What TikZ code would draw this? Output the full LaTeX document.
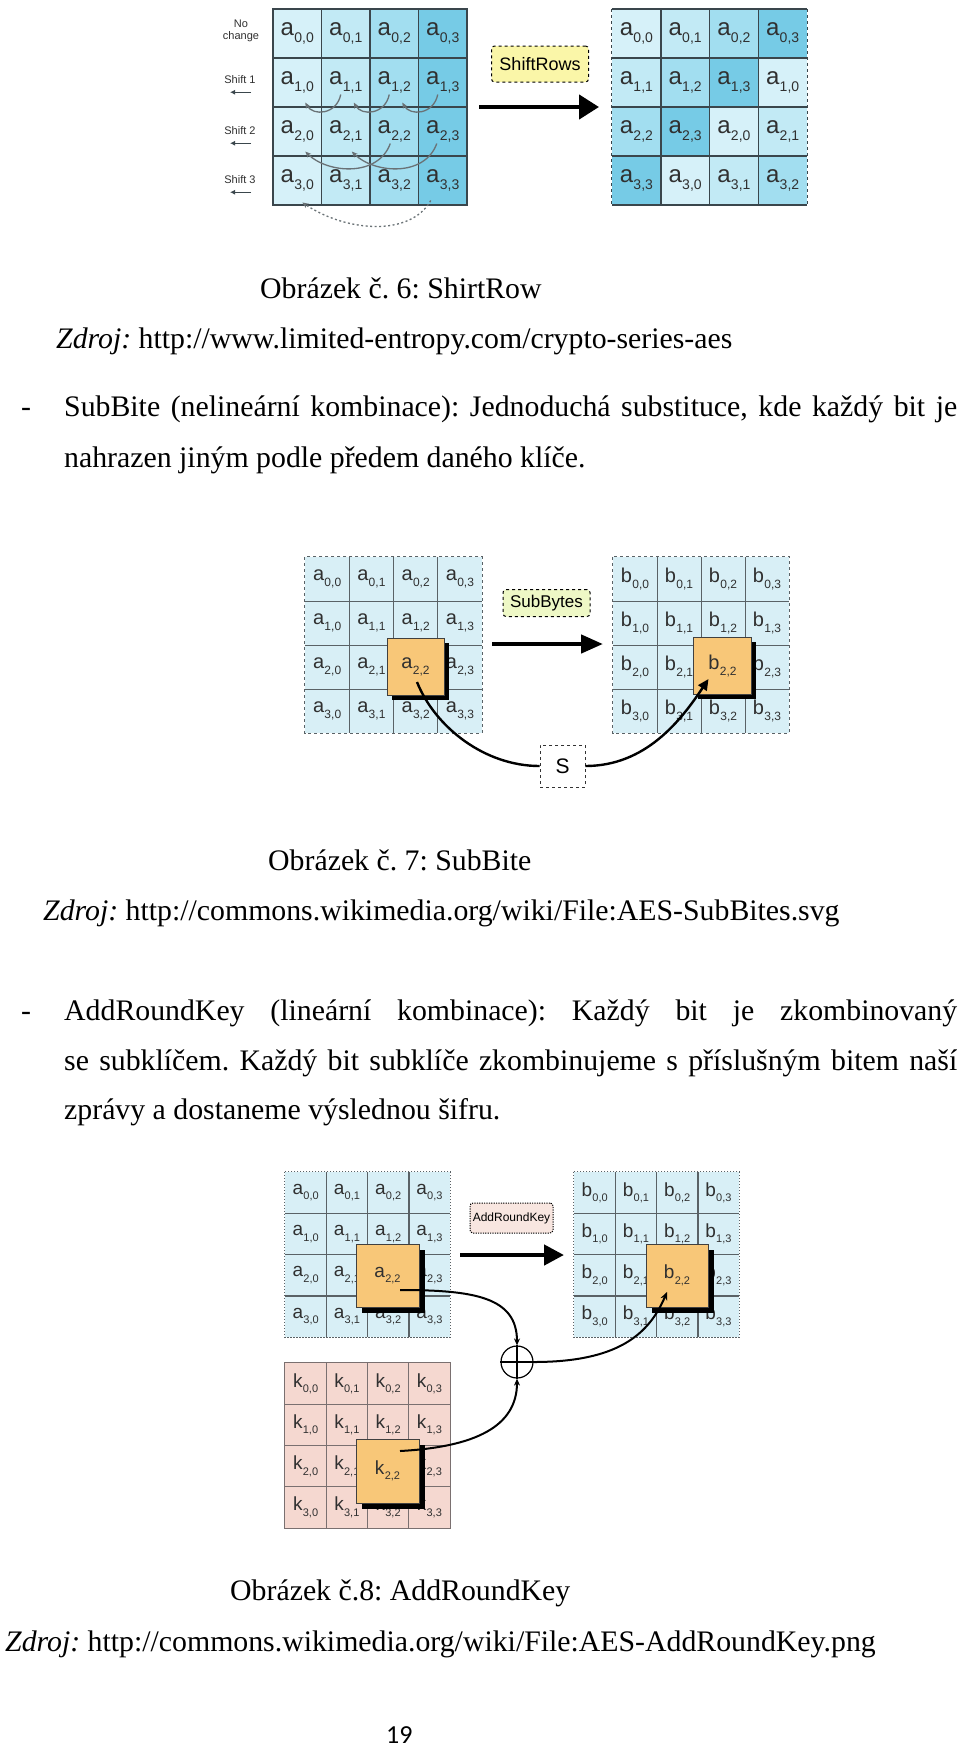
\documentclass[tikz,border=0pt]{standalone}
\usepackage{fontspec}
\setmainfont{Liberation Serif}
\setsansfont{Liberation Sans}
\newfontfamily\pgnumfont{Carlito}
\usetikzlibrary{arrows.meta,calc}
\frenchspacing
\definecolor{colS0}{HTML}{D6F1F9}
\definecolor{colS1}{HTML}{C2EAF5}
\definecolor{colS2}{HTML}{A2DEF0}
\definecolor{colS3}{HTML}{76CBE6}
\definecolor{gridS}{HTML}{3A464C}
\definecolor{cellB}{HTML}{D8EFF6}
\definecolor{cellK}{HTML}{F5D8D0}
\definecolor{gridG}{HTML}{5A6266}
\definecolor{gridK}{HTML}{7A7070}
\definecolor{orangeC}{HTML}{F8C778}
\definecolor{txtC}{HTML}{303030}
\definecolor{yelC}{HTML}{FAF6A8}
\definecolor{lgC}{HTML}{EEF8C6}
\definecolor{pinkC}{HTML}{F8E6E0}
\definecolor{arrG}{HTML}{6A7276}
\newcommand\aent[3]{#1\kern0.3pt\raisebox{-0.55ex}{\fontsize{\subsz}{\subsz}\selectfont #2,#3}}
\def\subsz{14}
\begin{document}
\begin{tikzpicture}[x=1pt,y=-1pt,
  txt/.style={anchor=base west, inner sep=0, font=\fontsize{29.8}{34}\selectfont\frenchspacing},
  cellS/.style={rectangle, inner sep=0, minimum width=48.5pt, minimum height=49pt, text=txtC,
    font=\sffamily\fontsize{24}{24}\selectfont\def\subsz{14}},
  cellM/.style={rectangle, inner sep=0, minimum width=44.2pt, minimum height=44pt, text=txtC,
    font=\sffamily\fontsize{20}{20}\selectfont\def\subsz{12}},
  cellN/.style={rectangle, inner sep=0, minimum width=41.25pt, minimum height=41.25pt, text=txtC,
    font=\sffamily\fontsize{19}{19}\selectfont\def\subsz{11}},
  gline/.style={draw=gridS, line width=1.5pt},
  mline/.style={draw=gridG, line width=1.1pt},
  kline/.style={draw=gridK, line width=1pt},
  orbox/.style={rectangle, inner sep=0, fill=orangeC, draw=black!75, line width=0.8pt, text=txtC},
  shadowbox/.style={rectangle, inner sep=0, fill=black},
  opbox/.style={rectangle, rounded corners=3pt, inner sep=0, text=black, font=\sffamily},
  bigarrow/.style={line width=4.5pt, black},
  curvearr/.style={line width=2.4pt, black},
  rowlab/.style={font=\sffamily\fontsize{11}{12}\selectfont, text=txtC, inner sep=0, align=center},
  shiftarr/.style={gridS, line width=1.2pt, -{Latex[length=5pt,width=5pt]}},
  grayarr/.style={arrG, line width=1.3pt, -{Stealth[length=6pt,width=5pt]}}
]
\useasboundingbox (0,0) rectangle (960,1748);
\fill[white] (0,0) rectangle (960,1748);

% ================= Figure 6: ShiftRows =================
\foreach \r in {0,...,3}{\foreach \c in {0,...,3}{
  \node[cellS, fill=colS\c] (L-\r-\c) at ({273+48.5*(\c+0.5)},{9+49*(\r+0.5)}) {\aent{a}{\r}{\c}};
  \pgfmathtruncatemacro\src{mod(\c+\r,4)}
  \node[cellS, fill=colS\src] (R-\r-\c) at ({612+48.75*(\c+0.5)},{9+49*(\r+0.5)}) {\aent{a}{\r}{\src}};
}}
\foreach \c in {0,1,2}{
  \draw[gline] (L-0-\c.north east) -- (L-3-\c.south east);
  \draw[gline] (R-0-\c.north east) -- (R-3-\c.south east);
}
\foreach \r in {0,1,2}{
  \draw[gline] (L-\r-0.south west) -- (L-\r-3.south east);
  \draw[gline] (R-\r-0.south west) -- (R-\r-3.south east);
}
\draw[gline] (L-0-0.north west) rectangle (L-3-3.south east);
\draw[gline] (R-0-0.north west) -- (R-0-3.north east);
\draw[gline] (R-3-0.south west) -- (R-3-3.south east);
\draw[draw=gridS, line width=1pt, dashed] (R-0-0.north west) -- (R-3-0.south west);
\draw[draw=gridS, line width=1pt, dashed] (R-0-3.north east) -- (R-3-3.south east);

% row labels
\node[rowlab] (lab0) at (241,31) {No\\change};
\node[rowlab] (lab1) at (240,80) {Shift 1};
\node[rowlab] (lab2) at (240,131) {Shift 2};
\node[rowlab] (lab3) at (240,180) {Shift 3};
\foreach \k in {1,2,3}{
  \draw[shiftarr] ($(lab\k.south)+(11,8)$) -- ++(-21,0);
}

% shift arrows inside the left grid
\draw[grayarr] ($(L-1-1.center)+(-5,12)$) .. controls +(-4,20) and +(8,14) .. ($(L-1-0.center)+(8,20)$);
\draw[grayarr] ($(L-1-2.center)+(-5,12)$) .. controls +(-4,20) and +(8,14) .. ($(L-1-1.center)+(8,20)$);
\draw[grayarr] ($(L-1-3.center)+(-5,12)$) .. controls +(-4,20) and +(8,14) .. ($(L-1-2.center)+(8,20)$);
\draw[grayarr] ($(L-2-2.center)+(-4,12)$) .. controls +(-12,34) and +(22,22) .. ($(L-2-0.center)+(8,20)$);
\draw[grayarr] ($(L-2-3.center)+(-6,12)$) .. controls +(-12,34) and +(22,22) .. ($(L-2-1.center)+(6,20)$);
\draw[grayarr, dash pattern=on 2pt off 2.5pt] ($(L-3-3.center)+(-12,20)$) .. controls +(-20,36) and +(45,30) .. ($(L-3-0.center)+(5,22)$);

% ShiftRows operation
\node[opbox, fill=yelC, draw=black, dashed, line width=1pt, minimum width=97pt, minimum height=36pt,
      font=\sffamily\fontsize{18}{18}\selectfont] (shiftop) at (540,64) {ShiftRows};
\coordinate (sarrA) at (479,107);
\coordinate (sarrB) at (599,107);
\draw[bigarrow, -{Triangle[length=20pt,width=24pt]}] (sarrA) -- (sarrB);

% ================= Figure 7: SubBytes =================
\foreach \r in {0,...,3}{\foreach \c in {0,...,3}{
  \node[cellM, fill=cellB] (SA-\r-\c) at ({305+44.25*(\c+0.5)},{557+44*(\r+0.5)}) {\aent{a}{\r}{\c}};
  \node[cellM, fill=cellB] (SB-\r-\c) at ({613+44*(\c+0.5)},{557+44*(\r+0.5)}) {\aent{b}{\r}{\c}};
}}
\foreach \c in {0,1,2}{
  \draw[mline] (SA-0-\c.north east) -- (SA-3-\c.south east);
  \draw[mline] (SB-0-\c.north east) -- (SB-3-\c.south east);
}
\foreach \r in {0,1,2}{
  \draw[mline] (SA-\r-0.south west) -- (SA-\r-3.south east);
  \draw[mline] (SB-\r-0.south west) -- (SB-\r-3.south east);
}
\draw[draw=gridG, line width=1.1pt, dashed] (SA-0-0.north west) rectangle (SA-3-3.south east);
\draw[draw=gridG, line width=1.1pt, dashed] (SB-0-0.north west) rectangle (SB-3-3.south east);

\node[shadowbox, minimum width=57pt, minimum height=57pt] (SAsh) at (420,671) {};
\node[orbox, minimum width=57pt, minimum height=57pt, font=\sffamily\fontsize{20}{20}\selectfont\def\subsz{12}] (SAo) at (415.5,666.5) {\aent{a}{2}{2}};
\node[shadowbox, minimum width=58pt, minimum height=57pt] (SBsh) at (727,670) {};
\node[orbox, minimum width=58pt, minimum height=57pt, font=\sffamily\fontsize{20}{20}\selectfont\def\subsz{12}] (SBo) at (722.5,666) {\aent{b}{2}{2}};

\node[opbox, fill=lgC, draw=black, dashed, line width=1pt, minimum width=87pt, minimum height=27pt,
      font=\sffamily\fontsize{17}{17}\selectfont] (subop) at (546.5,603) {SubBytes};
\coordinate (barrA) at (492,644);
\coordinate (barrB) at (603,644);
\draw[bigarrow, -{Triangle[length=22pt,width=18pt]}] (barrA) -- (barrB);

\node[rectangle, fill=white, draw=black!80, dashed, line width=0.9pt, minimum width=45pt, minimum height=42pt,
      inner sep=0, font=\sffamily\fontsize{21}{21}\selectfont] (sbox) at (562.5,766) {S};
\draw[curvearr] ($(SAo.center)+(1.5,15.5)$) .. controls +(18,45) and +(-55,0) .. (sbox.west);
\draw[curvearr, -{Triangle[length=11pt,width=10pt]}] (sbox.east) .. controls +(60,0) and +(-28,42) .. ($(SBo.center)+(-14,13)$);

% ================= Figure 8: AddRoundKey =================
\foreach \r in {0,...,3}{\foreach \c in {0,...,3}{
  \node[cellN, fill=cellB] (KA-\r-\c) at ({285+41.25*(\c+0.5)},{1172+41.25*(\r+0.5)}) {\aent{a}{\r}{\c}};
  \node[cellN, fill=cellB] (KB-\r-\c) at ({574+41.25*(\c+0.5)},{1172+41.25*(\r+0.5)}) {\aent{b}{\r}{\c}};
  \node[cellN, fill=cellK] (KK-\r-\c) at ({285+41.25*(\c+0.5)},{1363+41.25*(\r+0.5)}) {\aent{k}{\r}{\c}};
}}
\foreach \c in {0,1,2}{
  \draw[mline] (KA-0-\c.north east) -- (KA-3-\c.south east);
  \draw[mline] (KB-0-\c.north east) -- (KB-3-\c.south east);
  \draw[kline] (KK-0-\c.north east) -- (KK-3-\c.south east);
}
\foreach \r in {0,1,2}{
  \draw[mline] (KA-\r-0.south west) -- (KA-\r-3.south east);
  \draw[mline] (KB-\r-0.south west) -- (KB-\r-3.south east);
  \draw[kline] (KK-\r-0.south west) -- (KK-\r-3.south east);
}
\draw[draw=gridG, line width=1.1pt, dash pattern=on 1.5pt off 1.5pt] (KA-0-0.north west) rectangle (KA-3-3.south east);
\draw[draw=gridG, line width=1.1pt, dash pattern=on 1.5pt off 1.5pt] (KB-0-0.north west) rectangle (KB-3-3.south east);
\draw[kline] (KK-0-0.north west) rectangle (KK-3-3.south east);

\node[shadowbox, minimum width=63pt, minimum height=63pt] (KAsh) at (393.5,1281.5) {};
\node[orbox, minimum width=63pt, minimum height=63pt, font=\sffamily\fontsize{19}{19}\selectfont\def\subsz{11}] (KAo) at (387.5,1275.5) {\aent{a}{2}{2}};
\node[shadowbox, minimum width=62pt, minimum height=63pt] (KBsh) at (683,1281.5) {};
\node[orbox, minimum width=62pt, minimum height=63pt, font=\sffamily\fontsize{19}{19}\selectfont\def\subsz{11}] (KBo) at (677,1275.5) {\aent{b}{2}{2}};
\node[shadowbox, minimum width=63pt, minimum height=64pt] (KKsh) at (393.5,1477) {};
\node[orbox, minimum width=63pt, minimum height=64pt, font=\sffamily\fontsize{19}{19}\selectfont\def\subsz{11}] (KKo) at (387.5,1471) {\aent{k}{2}{2}};

\node[opbox, fill=pinkC, draw=black, dash pattern=on 1.2pt off 1.2pt, line width=1pt, minimum width=83pt, minimum height=30pt,
      font=\sffamily\fontsize{12}{12}\selectfont] (addop) at (511.5,1218) {AddRoundKey};
\coordinate (karrA) at (460,1255);
\coordinate (karrB) at (564,1255);
\draw[bigarrow, -{Triangle[length=20pt,width=20pt]}] (karrA) -- (karrB);

\node[circle, draw=black, fill=white, line width=1.2pt, minimum size=32pt, inner sep=0] (xor) at (517,1362) {};
\draw[black, line width=1.2pt] (xor.north) -- (xor.south);
\draw[black, line width=1.2pt] (xor.west) -- (xor.east);

\draw[curvearr, line width=2pt, -{Stealth[length=7pt,width=6pt]}] ($(KAo.center)+(12.5,14.5)$) .. controls +(75,0) and +(0,-48) .. (xor.north);
\draw[curvearr, line width=2pt, -{Stealth[length=7pt,width=6pt]}] ($(KKo.center)+(12.5,-20)$) .. controls +(75,-4) and +(0,48) .. (xor.south);
\draw[curvearr, line width=2pt, -{Stealth[length=8pt,width=7pt]}] (xor.east) .. controls +(85,0) and +(-18,42) .. ($(KBo.center)+(-10,16.5)$);

% ================= Text =================
\node[txt] (cap6) at (260,298) {Obrázek č. 6: ShirtRow};
\node[txt] (src6) at (56,348) {\textit{Zdroj:} http://www.limited-entropy.com/crypto-series-aes};
\node[txt] (dash1) at (21,416) {-};
\node[txt] (p1a) at (64,416) {\makebox[893pt][s]{SubBite (nelineární kombinace): Jednoduchá substituce, kde každý bit je}};
\node[txt] (p1b) at (64,467) {nahrazen jiným podle předem daného klíče.};
\node[txt] (cap7) at (268,870) {Obrázek č. 7: SubBite};
\node[txt] (src7) at (43,920) {\textit{Zdroj:} http://commons.wikimedia.org/wiki/File:AES-SubBites.svg};
\node[txt] (dash2) at (21,1020) {-};
\node[txt] (p2a) at (64,1020) {\makebox[893pt][s]{AddRoundKey (lineární kombinace): Každý bit je zkombinovaný}};
\node[txt] (p2b) at (64,1070) {\makebox[893pt][s]{se subklíčem. Každý bit subklíče zkombinujeme s příslušným bitem naší}};
\node[txt] (p2c) at (64,1119) {zprávy a dostaneme výslednou šifru.};
\node[txt] (cap8) at (230,1600) {Obrázek č.8: AddRoundKey};
\node[txt] (src8) at (5,1651) {\textit{Zdroj:} http://commons.wikimedia.org/wiki/File:AES-AddRoundKey.png};
\node[anchor=base west, inner sep=0, font=\pgnumfont\fontsize{26}{30}\selectfont] (pgnum) at (386,1743) {19};
\end{tikzpicture}
\end{document}
